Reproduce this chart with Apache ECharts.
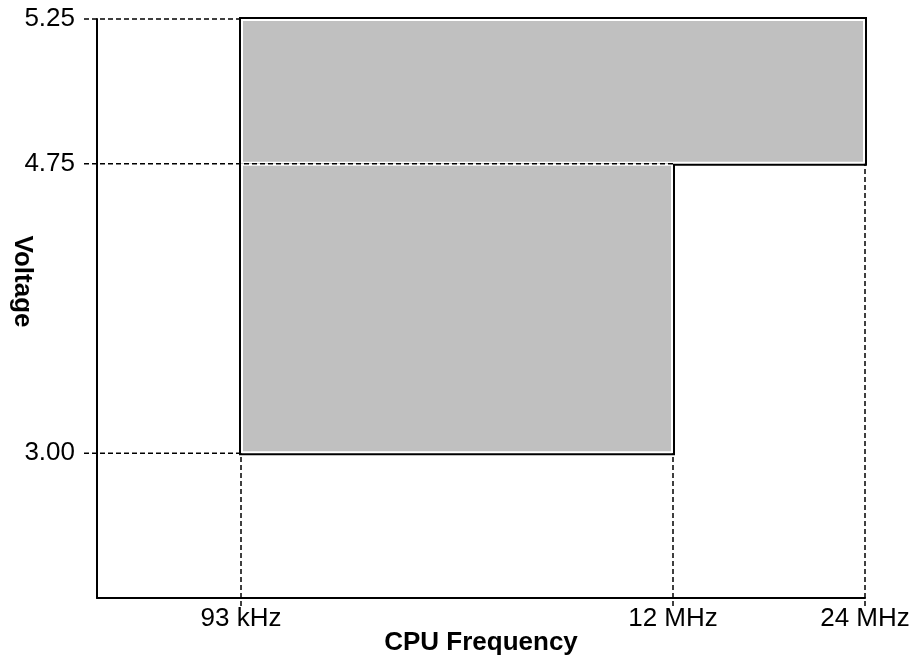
<!DOCTYPE html>
<html>
<head>
<meta charset="utf-8">
<title>CPU Frequency vs Voltage</title>
<script src="https://cdn.jsdelivr.net/npm/echarts@6/dist/echarts.min.js"></script>
<style>
  html, body { margin: 0; padding: 0; background: #fff; }
  #chart { width: 914px; height: 658px; }
</style>
</head>
<body>
<div id="chart"></div>
<script>
// tick labels (the axes are schematic, not to scale)
const freqLabels = ['93 kHz', '12 MHz', '24 MHz']
const voltLabels = ['3.00', '4.75', '5.25']
// where each tick sits on the schematic 0..4 axis
const freqPos = [0.75, 3, 4]
const voltPos = [1, 3, 4]
// operating regions: [freq from, freq to, volt from, volt to] as tick indexes
const regions = [
  [0, 2, 1, 2],
  [0, 1, 0, 1]
]

const FONT = "'Liberation Sans', Arial, sans-serif"

const regionData = regions.map(r => [freqPos[r[0]], freqPos[r[1]], voltPos[r[2]], voltPos[r[3]]])

// overlap of two ranges, or null
function overlap(a0, a1, b0, b1) {
  const lo = Math.max(a0, b0), hi = Math.min(a1, b1)
  return hi > lo ? [lo, hi] : null
}

// guide lines run from the axis to the first region edge, or on across an
// edge that two regions share
const hGuides = voltPos.map(v => {
  let x = Infinity
  regionData.forEach(r => { if (r[2] === v || r[3] === v) x = Math.min(x, r[0]) })
  regionData.forEach(a => regionData.forEach(b => {
    if (a[3] === v && b[2] === v) {
      const o = overlap(a[0], a[1], b[0], b[1])
      if (o) x = Math.max(x, o[1])
    }
  }))
  return [v, x]
})
const vGuides = freqPos.map(f => {
  let y = Infinity
  regionData.forEach(r => { if (r[0] === f || r[1] === f) y = Math.min(y, r[2]) })
  regionData.forEach(a => regionData.forEach(b => {
    if (a[1] === f && b[0] === f) {
      const o = overlap(a[2], a[3], b[2], b[3])
      if (o) y = Math.max(y, o[1])
    }
  }))
  return [f, y]
})

function rectOf(api) {
  const p1 = api.coord([api.value(0), api.value(3)])
  const p2 = api.coord([api.value(1), api.value(2)])
  return { x: p1[0], y: p1[1], width: p2[0] - p1[0], height: p2[1] - p1[1] }
}

const chart = echarts.init(document.getElementById('chart'))
chart.setOption({
  animation: false,
  grid: { left: 97, right: 49, top: 19, bottom: 60, outerBoundsMode: 'none', containLabel: false },
  xAxis: {
    type: 'value', min: 0, max: 4,
    name: 'CPU Frequency', nameLocation: 'middle', nameGap: 32, nameMoveOverlap: false,
    nameTextStyle: { fontFamily: FONT, fontSize: 26, fontWeight: 'bold', color: '#000' },
    splitLine: { show: false },
    axisTick: { show: false },
    axisLine: { lineStyle: { color: '#000', width: 2 } },
    axisLabel: {
      customValues: freqPos, margin: 8,
      fontFamily: FONT, fontSize: 26, color: '#000',
      formatter: v => freqLabels[freqPos.indexOf(v)]
    }
  },
  yAxis: {
    type: 'value', min: 0, max: 4,
    name: 'Voltage', nameLocation: 'middle', nameGap: 62, nameRotate: -90, nameMoveOverlap: false,
    nameTextStyle: { fontFamily: FONT, fontSize: 26, fontWeight: 'bold', color: '#000', padding: [0, 54, 0, 0] },
    splitLine: { show: false },
    axisTick: { show: false },
    axisLine: { lineStyle: { color: '#000', width: 2 } },
    axisLabel: {
      customValues: voltPos, margin: 22,
      fontFamily: FONT, fontSize: 26, color: '#000',
      formatter: v => voltLabels[voltPos.indexOf(v)]
    }
  },
  series: [
    {
      // black outline, drawn under the fills so shared edges disappear
      type: 'custom', z: 2, silent: true,
      data: regionData,
      renderItem: (params, api) => {
        const r = rectOf(api)
        return { type: 'rect', shape: r, style: { fill: null, stroke: '#000', lineWidth: 4 } }
      }
    },
    {
      type: 'custom', z: 3, silent: true,
      data: regionData,
      renderItem: (params, api) => {
        const r = rectOf(api)
        return {
          type: 'group',
          children: [
            { type: 'rect', shape: r, style: { fill: '#fff' } },
            { type: 'rect', shape: { x: r.x + 2, y: r.y + 2, width: r.width - 4, height: r.height - 4 }, style: { fill: '#c0c0c0' } }
          ]
        }
      }
    },
    {
      type: 'custom', z: 4, silent: true,
      data: hGuides,
      renderItem: (params, api) => {
        const a = api.coord([0, api.value(0)])
        const b = api.coord([api.value(1), api.value(0)])
        return {
          type: 'line',
          shape: { x1: a[0] - 13, y1: a[1], x2: b[0], y2: b[1] },
          style: { stroke: '#000', lineWidth: 1.5, lineDash: [5, 3] }
        }
      }
    },
    {
      type: 'custom', z: 4, silent: true,
      data: vGuides,
      renderItem: (params, api) => {
        const a = api.coord([api.value(0), 0])
        const b = api.coord([api.value(0), api.value(1)])
        return {
          type: 'line',
          shape: { x1: a[0], y1: a[1] + 8, x2: b[0], y2: b[1] },
          style: { stroke: '#000', lineWidth: 1.5, lineDash: [5, 3] }
        }
      }
    }
  ]
})
</script>
</body>
</html>
